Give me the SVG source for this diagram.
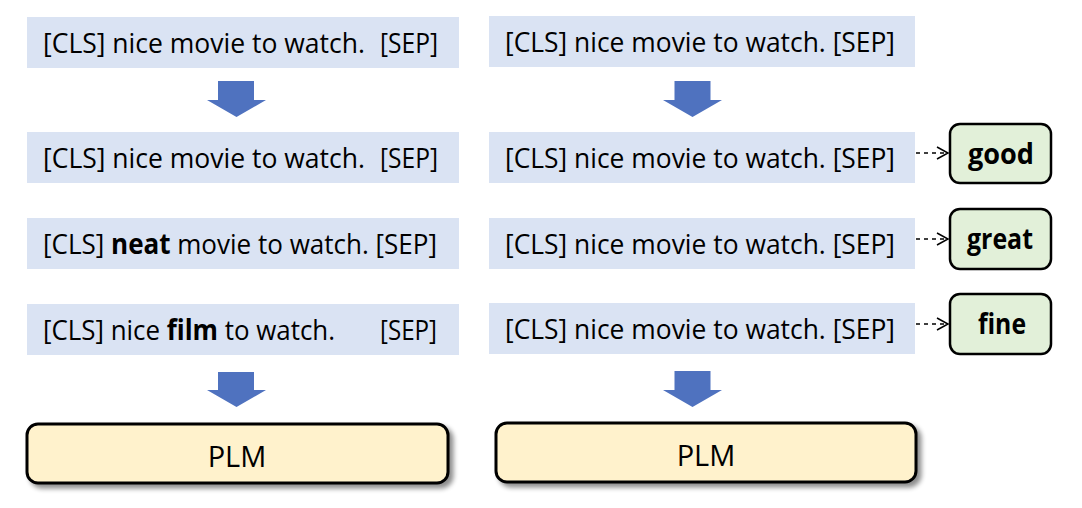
<svg xmlns="http://www.w3.org/2000/svg" width="1082" height="508" viewBox="0 0 1082 508">
<defs>
  <style>
    .tok{fill:#dae3f3;}
    .t{font-family:"Open Sans","Liberation Sans",sans-serif;font-size:28px;fill:#000;}
    .b{font-weight:bold;}
    .blk{fill:#4f72bf;}
    .plm{fill:#fff2cc;stroke:#000;stroke-width:3;}
    .lab{fill:#e2f0d9;stroke:#000;stroke-width:2.5;}
    .dash{fill:none;stroke:#000;stroke-width:1.5;stroke-dasharray:4 4;}
    .head{fill:none;stroke:#000;stroke-width:1.5;}
  </style>
  <filter id="sh" x="-10%" y="-30%" width="120%" height="160%">
    <feGaussianBlur in="SourceAlpha" stdDeviation="2.5"/>
    <feOffset dx="4" dy="4" result="o"/>
    <feComponentTransfer><feFuncA type="linear" slope="0.45"/></feComponentTransfer>
    <feMerge><feMergeNode/><feMergeNode in="SourceGraphic"/></feMerge>
  </filter>
</defs>
<rect width="1082" height="508" fill="#fff"/>

<g id="left-row1">
  <rect class="tok" x="27" y="17" width="432" height="51"/>
  <text class="t" x="43" y="53" textLength="322" lengthAdjust="spacingAndGlyphs">[CLS] nice movie to watch.</text>
  <text class="t" x="380" y="53" textLength="58" lengthAdjust="spacingAndGlyphs">[SEP]</text>
</g>
<g id="left-row2">
  <rect class="tok" x="27" y="132" width="432" height="51"/>
  <text class="t" x="43" y="168" textLength="322" lengthAdjust="spacingAndGlyphs">[CLS] nice movie to watch.</text>
  <text class="t" x="380" y="168" textLength="58" lengthAdjust="spacingAndGlyphs">[SEP]</text>
</g>
<g id="left-row3">
  <rect class="tok" x="27" y="218" width="432" height="51"/>
  <text class="t" x="43" y="254" textLength="394" lengthAdjust="spacingAndGlyphs">[CLS] <tspan class="b">neat</tspan> movie to watch. [SEP]</text>
</g>
<g id="left-row4">
  <rect class="tok" x="27" y="304" width="432" height="51"/>
  <text class="t" x="43" y="340" textLength="292" lengthAdjust="spacingAndGlyphs">[CLS] nice <tspan class="b">film</tspan> to watch.</text>
  <text class="t" x="380" y="340" textLength="57" lengthAdjust="spacingAndGlyphs">[SEP]</text>
</g>
<g id="left-plm">
  <rect class="plm" x="27" y="424" width="421" height="59" rx="11" filter="url(#sh)"/>
  <text class="t" x="237" y="467" text-anchor="middle" style="font-size:29px">PLM</text>
</g>

<g id="right-row1">
  <rect class="tok" x="489" y="16" width="426" height="51"/>
  <text class="t" x="505" y="52" textLength="390" lengthAdjust="spacingAndGlyphs">[CLS] nice movie to watch. [SEP]</text>
</g>
<g id="right-row2">
  <rect class="tok" x="489" y="132" width="426" height="51"/>
  <text class="t" x="505" y="168" textLength="390" lengthAdjust="spacingAndGlyphs">[CLS] nice movie to watch. [SEP]</text>
</g>
<g id="right-row3">
  <rect class="tok" x="489" y="218" width="426" height="51"/>
  <text class="t" x="505" y="254" textLength="390" lengthAdjust="spacingAndGlyphs">[CLS] nice movie to watch. [SEP]</text>
</g>
<g id="right-row4">
  <rect class="tok" x="489" y="303" width="426" height="51"/>
  <text class="t" x="505" y="339" textLength="390" lengthAdjust="spacingAndGlyphs">[CLS] nice movie to watch. [SEP]</text>
</g>
<g id="right-plm">
  <rect class="plm" x="496" y="423" width="420" height="59" rx="11" filter="url(#sh)"/>
  <text class="t" x="706" y="466" text-anchor="middle" style="font-size:29px">PLM</text>
</g>

<g id="label-good">
  <rect class="lab" x="950" y="124" width="101" height="59" rx="10"/>
  <text class="t b" x="1001" y="164" text-anchor="middle" textLength="66" lengthAdjust="spacingAndGlyphs">good</text>
</g>
<g id="label-great">
  <rect class="lab" x="950" y="209" width="101" height="60" rx="10"/>
  <text class="t b" x="1000" y="249" text-anchor="middle" textLength="66" lengthAdjust="spacingAndGlyphs">great</text>
</g>
<g id="label-fine">
  <rect class="lab" x="950" y="294" width="101" height="60" rx="10"/>
  <text class="t b" x="1002" y="334" text-anchor="middle" textLength="48" lengthAdjust="spacingAndGlyphs">fine</text>
</g>

<g id="connectors">
  <path class="blk" d="M218,81 H254 V100 H266 L236.5,117 L207,100 H218 Z"/>
  <path class="blk" d="M218,372 H254 V390 H266 L236.5,407 L207,390 H218 Z"/>
  <path class="blk" d="M674.5,81 H710.5 V100 H722 L692.5,117 L663,100 H674.5 Z"/>
  <path class="blk" d="M674.5,371 H710.5 V390 H722 L692.5,407 L663,390 H674.5 Z"/>
  <line class="dash" x1="916" y1="153" x2="947" y2="153"/>
  <polyline class="head" points="937,147 948,153 937,159"/>
  <line class="dash" x1="916" y1="239" x2="947" y2="239"/>
  <polyline class="head" points="937,233 948,239 937,245"/>
  <line class="dash" x1="916" y1="324" x2="947" y2="324"/>
  <polyline class="head" points="937,318 948,324 937,330"/>
</g>
</svg>
